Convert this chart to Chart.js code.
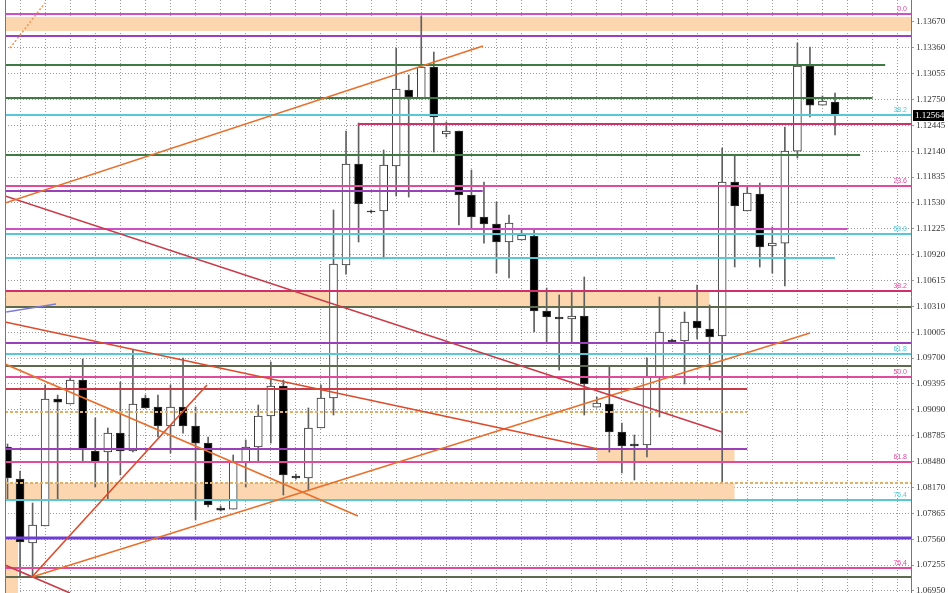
<!DOCTYPE html>
<html>
<head>
<meta charset="utf-8">
<script src="https://cdn.jsdelivr.net/npm/chart.js@4.4.1/dist/chart.umd.min.js"></script>
<style>
html, body { margin: 0; padding: 0; background: #fff; }
#wrap { width: 948px; height: 593px; }
</style>
</head>
<body>
<div id="wrap"><canvas id="c"></canvas></div>
<script>
// daily candles, oldest first
const opens  = [1.08649,1.08271,1.07516,1.07717,1.09216,1.09157,1.09440,1.08602,1.08590,1.08814,1.08602,1.09228,1.09121,1.08897,1.09121,1.08897,1.08696,1.07929,1.07917,1.08472,1.08649,1.09015,1.09369,1.08307,1.08283,1.08874,1.09228,1.10798,1.11990,1.11435,1.11435,1.11966,1.12864,1.12769,1.13135,1.12344,1.12380,1.11624,1.11364,1.11282,1.11069,1.11093,1.11140,1.10255,1.10184,1.10160,1.10196,1.09121,1.09157,1.08826,1.08685,1.08673,1.09476,1.09912,1.09901,1.10137,1.10042,1.09960,1.11777,1.11435,1.11636,1.11022,1.11057,1.12143,1.13147,1.12686,1.12722];
const highs  = [1.08685,1.08366,1.07988,1.09381,1.09263,1.09464,1.09688,1.08992,1.08874,1.09417,1.09794,1.09263,1.09263,1.09381,1.09700,1.09121,1.08767,1.07953,1.08555,1.08732,1.09145,1.09653,1.09440,1.08330,1.09110,1.09381,1.11447,1.12380,1.12474,1.11447,1.12155,1.13359,1.13041,1.13737,1.13312,1.12486,1.12380,1.11919,1.11777,1.11541,1.11388,1.11211,1.11211,1.10526,1.10444,1.10503,1.10656,1.09239,1.09594,1.08933,1.08791,1.09700,1.10420,1.09924,1.10243,1.10562,1.10326,1.12179,1.12096,1.11718,1.11766,1.11246,1.12427,1.13418,1.13371,1.12793,1.12828];
const lows   = [1.08024,1.07115,1.07115,1.07717,1.08024,1.09157,1.08472,1.08177,1.08024,1.08319,1.08590,1.09110,1.08767,1.08578,1.08814,1.07787,1.07941,1.07894,1.07917,1.08177,1.08472,1.08696,1.08083,1.08271,1.08142,1.08874,1.09027,1.10691,1.11069,1.11412,1.10869,1.11612,1.11600,1.12769,1.12132,1.12309,1.11270,1.11234,1.11057,1.10703,1.10644,1.11093,1.10007,1.09877,1.09558,1.09877,1.09027,1.09121,1.08590,1.08342,1.08260,1.08531,1.09003,1.09877,1.09393,1.09924,1.09440,1.08224,1.10774,1.11435,1.10774,1.10703,1.10550,1.12061,1.12545,1.12686,1.12332];
const closes = [1.08283,1.07528,1.07728,1.09216,1.09180,1.09440,1.08626,1.08472,1.08814,1.08602,1.09157,1.09110,1.08897,1.09121,1.08897,1.08696,1.07965,1.07905,1.08472,1.08649,1.09015,1.09369,1.08319,1.08283,1.08874,1.09228,1.10810,1.11990,1.11518,1.11423,1.11978,1.12875,1.12781,1.13135,1.12545,1.12380,1.11624,1.11364,1.11282,1.11069,1.11293,1.11152,1.10255,1.10184,1.10160,1.10196,1.09393,1.09169,1.08826,1.08661,1.08661,1.09476,1.10007,1.09889,1.10125,1.10054,1.09948,1.11777,1.11494,1.11648,1.11010,1.11057,1.12143,1.13147,1.12686,1.12734,1.12564];

// price axis labels
const priceTicks = [1.13670,1.13360,1.13055,1.12750,1.12445,1.12140,1.11835,1.11530,1.11225,1.10920,1.10615,1.10310,1.10005,1.09700,1.09395,1.09090,1.08785,1.08480,1.08170,1.07865,1.07560,1.07255,1.06950];

const XMIN = -0.2, XMAX = 72.06;
const YMIN = 1.06926, YMAX = 1.13926;

// horizontal levels (price, from bar, to bar, kind)
const levelPrice = [1.13761,1.13501,1.13159,1.12769,1.12568,1.12462,1.12096,1.11730,1.11671,1.11223,1.11164,1.10880,1.10491,1.10302,1.09877,1.09747,1.09605,1.09476,1.09334,1.09062,1.08626,1.08472,1.08224,1.08024,1.07575,1.07221,1.07115];
const levelFrom  = [XMIN,XMIN,XMIN,XMIN,XMIN,27.95,XMIN,XMIN,XMIN,XMIN,XMIN,XMIN,XMIN,XMIN,XMIN,XMIN,XMIN,XMIN,XMIN,XMIN,XMIN,XMIN,XMIN,XMIN,XMIN,XMIN,XMIN];
const levelTo    = [XMAX,XMAX,70,69,XMAX,XMAX,68,XMAX,37.9,67,XMAX,66,XMAX,XMAX,XMAX,XMAX,XMAX,XMAX,59,59,59,XMAX,XMAX,XMAX,XMAX,XMAX,XMAX];
const levelKind  = ['magenta','purple','green','green','cyan','crimson','green','pink','purple','magenta','cyan','cyan','crimson','olive','purple','cyan','olive','pink','red','tan','purple','pink','tan','cyan','violet','pink','olive'];

// shaded zones
const bandTop    = [1.13725,1.10491,1.08614,1.08224,1.07551];
const bandBottom = [1.13560,1.10314,1.08472,1.08024,1.06926];
const bandFrom   = [XMIN,XMIN,47,XMIN,XMIN];
const bandTo     = [XMAX,56,58,58,0.84];

// trend lines
const trendX1 = [XMIN,XMIN,XMIN,XMIN,1.95,1.95,XMIN,0.2,-0.1];
const trendY1 = [1.11530,1.11612,1.10125,1.09629,1.07115,1.07115,1.07256,1.13359,1.10243];
const trendX2 = [37.92,56.99,47.1,27.95,15.91,64.0,4.98,2.99,3.87];
const trendY2 = [1.13383,1.08826,1.08626,1.07835,1.09381,1.09995,1.06926,1.13891,1.10337];
const trendKind = ['orange','red','orangered','orange','orangered','orange','red','orangeDot','blue'];

// fibonacci level captions
const fibText  = ['0.0','23.6','38.2','50.0','61.8','76.4','38.2','50.0','61.8','76.4'];
const fibPrice = [1.13761,1.11730,1.10491,1.09476,1.08472,1.07221,1.12568,1.11164,1.09747,1.08024];
const fibKind  = ['pink','pink','pink','pink','pink','pink','cyan','cyan','cyan','cyan'];

const palette = {
    magenta: '#cf4fc4', pink: '#e24a9e', purple: '#9a40b8', green: '#3f7a45',
    cyan: '#58c8d8', crimson: '#d0306a', olive: '#5d6a4e', red: '#c93a48',
    tan: '#e2b064', violet: '#6d3dd6', orange: '#e8702c', orangered: '#dc4a2a',
    orangeDot: '#e89a5a', blue: '#7c7cd8'
};

const datasets = [];

bandTop.forEach((top, k) => {
    datasets.push({
        type: 'line',
        data: [{x: bandFrom[k], y: top}, {x: bandTo[k], y: top}],
        fill: {value: bandBottom[k]},
        backgroundColor: '#fcd6ae',
        borderWidth: 0,
        pointRadius: 0,
        order: 10,
    });
});

datasets.push({
    type: 'bar',
    data: opens.map((_, i) => ({x: i, y: [lows[i], highs[i]]})),
    backgroundColor: '#606060',
    barThickness: 1,
    grouped: false,
    order: 6,
});
datasets.push({
    type: 'bar',
    data: opens.map((o, i) => ({x: i, y: [o, closes[i]]})),
    backgroundColor: opens.map((o, i) => closes[i] < o ? '#000' : '#fff'),
    borderColor: '#333',
    borderWidth: 1,
    borderSkipped: false,
    barThickness: 8,
    grouped: false,
    order: 5,
});

levelPrice.forEach((p, k) => {
    const kind = levelKind[k];
    datasets.push({
        type: 'line',
        data: [{x: levelFrom[k], y: p}, {x: levelTo[k], y: p}],
        borderColor: palette[kind],
        borderWidth: kind === 'violet' ? 3 : 2,
        borderDash: kind === 'tan' ? [3, 2] : [],
        pointRadius: 0,
        fill: false,
        order: 2,
    });
});

trendX1.forEach((x1, k) => {
    const kind = trendKind[k];
    datasets.push({
        type: 'line',
        data: [{x: x1, y: trendY1[k]}, {x: trendX2[k], y: trendY2[k]}],
        borderColor: palette[kind],
        borderWidth: 1.6,
        borderDash: kind === 'orangeDot' ? [2, 2] : [],
        pointRadius: 0,
        fill: false,
        order: 1,
    });
});

const extras = {
    id: 'extras',
    afterDraw(chart) {
        const {ctx, chartArea, scales} = chart;
        const y = scales.y;
        ctx.save();
        // frame
        ctx.strokeStyle = '#777';
        ctx.lineWidth = 1;
        ctx.beginPath();
        ctx.moveTo(chartArea.left + 0.5, chartArea.top);
        ctx.lineTo(chartArea.left + 0.5, chartArea.bottom);
        ctx.moveTo(chartArea.right + 0.5, chartArea.top);
        ctx.lineTo(chartArea.right + 0.5, chartArea.bottom);
        ctx.stroke();
        // fib captions
        ctx.font = '7px "Liberation Sans"';
        ctx.textAlign = 'right';
        ctx.textBaseline = 'bottom';
        fibText.forEach((t, k) => {
            ctx.fillStyle = palette[fibKind[k]];
            ctx.fillText(t, chartArea.right - 4, y.getPixelForValue(fibPrice[k]) - 1);
        });
        // current price box
        const last = closes[closes.length - 1];
        const py = Math.round(y.getPixelForValue(last));
        ctx.fillStyle = '#000';
        ctx.fillRect(chartArea.right + 2, py - 5, 31, 11);
        ctx.fillStyle = '#fff';
        ctx.font = '9px "Liberation Serif"';
        ctx.textAlign = 'left';
        ctx.textBaseline = 'middle';
        ctx.fillText(last.toFixed(5), chartArea.right + 4, py + 0.5);
        ctx.restore();
    }
};

new Chart(document.getElementById('c'), {
    type: 'bar',
    data: {datasets: datasets},
    options: {
        responsive: true,
        maintainAspectRatio: false,
        animation: false,
        layout: {padding: {left: 5, top: 0, right: 0, bottom: 0}},
        plugins: {legend: {display: false}, tooltip: {enabled: false}},
        scales: {
            x: {
                type: 'linear',
                offset: false,
                min: XMIN,
                max: XMAX,
                afterBuildTicks: (axis) => {
                    const t = [];
                    for (let v = 0; v <= 70; v += 2) t.push({value: v});
                    axis.ticks = t;
                },
                afterFit: (axis) => {
                    axis.height = 0;
                    axis.paddingLeft = 0;
                    axis.paddingRight = 0;
                },
                ticks: {display: false},
                border: {display: false, dash: [1, 2]},
                grid: {color: '#9a9a9a', lineWidth: 1, drawTicks: false},
            },
            y: {
                type: 'linear',
                position: 'right',
                min: YMIN,
                max: YMAX,
                afterBuildTicks: (axis) => {
                    axis.ticks = priceTicks.map(v => ({value: v}));
                },
                afterFit: (axis) => {
                    axis.width = 37;
                    axis.paddingTop = 0;
                    axis.paddingBottom = 0;
                },
                ticks: {
                    callback: (v) => Number(v).toFixed(5),
                    font: {family: 'Liberation Serif', size: 9},
                    color: '#333',
                    padding: 2,
                    autoSkip: false,
                },
                border: {display: false, dash: [1, 2]},
                grid: {color: '#9a9a9a', lineWidth: 1, tickLength: 3},
            }
        }
    },
    plugins: [extras]
});
</script>
</body>
</html>
